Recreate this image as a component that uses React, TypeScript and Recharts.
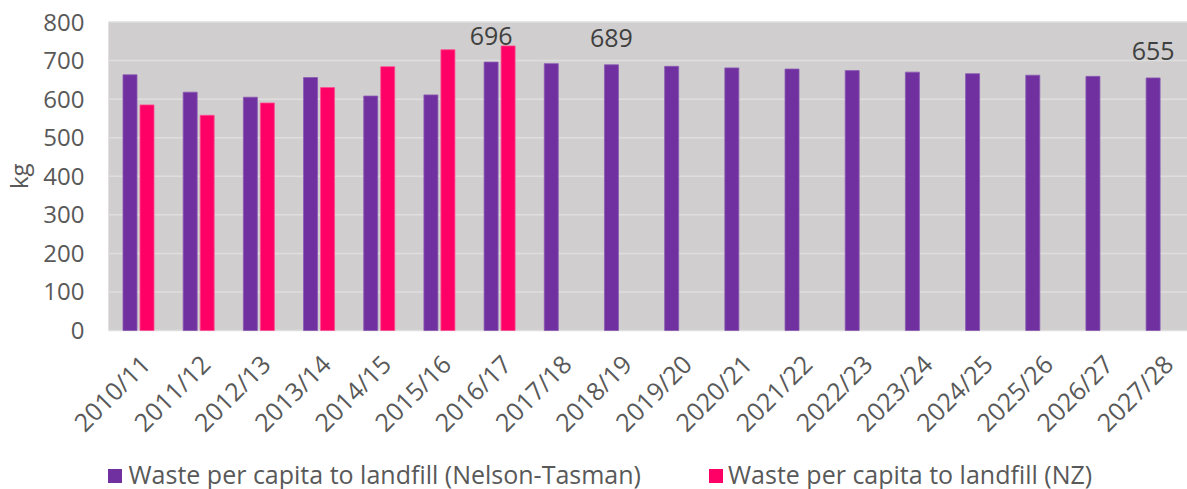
import React from 'react';
import { BarChart, Bar, XAxis, YAxis, CartesianGrid, Legend, LabelList, Label } from 'recharts';

// Financial years shown on the category axis
const years = [
  '2010/11', '2011/12', '2012/13', '2013/14', '2014/15', '2015/16', '2016/17', '2017/18', '2018/19',
  '2019/20', '2020/21', '2021/22', '2022/23', '2023/24', '2024/25', '2025/26', '2026/27', '2027/28',
];

// Waste per capita to landfill, kg – Nelson-Tasman (actuals then projection)
const nelsonTasman = [663, 618, 605, 656, 608, 611, 696, 692, 689, 685, 681, 678, 674, 670, 666, 662, 659, 655];

// Waste per capita to landfill, kg – New Zealand (actuals only)
const nz: (number | null)[] = [585, 558, 590, 630, 684, 728, 738, null, null, null, null, null, null, null, null, null, null, null];

// Years whose Nelson-Tasman value is printed above the bar
const labelledYears = ['2016/17', '2018/19', '2027/28'];

const yTicks = [0, 100, 200, 300, 400, 500, 600, 700, 800];

const seriesNames = {
  nt: 'Waste per capita to landfill (Nelson-Tasman)',
  nz: 'Waste per capita to landfill (NZ)',
};

const PURPLE = '#7030A0';
const PINK = '#FF0066';
const TEXT = '#595959';
const FONT = '"Open Sans", sans-serif';

const data = years.map((year, i) => ({
  year,
  nt: nelsonTasman[i],
  nz: nz[i],
  ntLabel: labelledYears.includes(year) ? nelsonTasman[i] : null,
}));

const XTick = (props: any) => {
  const { x, y, payload } = props;
  return (
    <g transform={`translate(${x + 1},${y + 23})`}>
      <text
        x={0}
        y={0}
        dy="0.71em"
        textAnchor="end"
        transform="rotate(-45)"
        fill={TEXT}
        fontSize={25}
        style={{ fontFamily: FONT }}
      >
        {payload.value}
      </text>
    </g>
  );
};

const KgLabel = (props: any) => {
  const vb = props.viewBox || { y: 22, height: 308 };
  const cy = vb.y + vb.height / 2;
  const bx = 28;
  return (
    <text
      x={bx}
      y={cy}
      transform={`rotate(-90, ${bx}, ${cy})`}
      textAnchor="middle"
      fill={TEXT}
      fontSize={24}
      style={{ fontFamily: FONT }}
    >
      kg
    </text>
  );
};

const LegendContent = () => (
  <div style={{ position: 'relative', width: 1187, height: 34, fontFamily: FONT, fontSize: 25, color: TEXT }}>
    <span style={{ position: 'absolute', left: 108, top: 14, width: 13.5, height: 13.5, background: PURPLE }} />
    <span style={{ position: 'absolute', left: 128.5, top: 6.5, lineHeight: '25px', whiteSpace: 'nowrap' }}>{seriesNames.nt}</span>
    <span style={{ position: 'absolute', left: 709, top: 14, width: 13.5, height: 13.5, background: PINK }} />
    <span style={{ position: 'absolute', left: 728, top: 6.5, lineHeight: '25px', whiteSpace: 'nowrap' }}>{seriesNames.nz}</span>
  </div>
);

export default function App() {
  return (
    <div style={{ position: 'absolute', left: 0, top: 0, width: 1187, height: 489, overflow: 'hidden', background: '#fff' }}>
      <BarChart
        width={1200}
        height={489}
        data={data}
        margin={{ top: 22, right: 8.3, bottom: 0, left: 0 }}
        barGap={3}
        barCategoryGap={14.6}
        style={{ fontFamily: FONT }}
      >
        <CartesianGrid vertical={false} fill="#D0CECE" fillOpacity={1} stroke="#DFDEDE" strokeWidth={1.5} />
        <XAxis
          dataKey="year"
          interval={0}
          tickLine={false}
          axisLine={false}
          tickSize={0}
          tickMargin={0}
          height={158.5}
          tick={<XTick />}
        />
        <YAxis
          domain={[0, 800]}
          ticks={yTicks}
          width={108.4}
          tickLine={false}
          axisLine={false}
          tickSize={0}
          tickMargin={24}
          tick={{ fontSize: 24, fill: TEXT, fontFamily: FONT }}
        >
          <Label content={<KgLabel />} />
        </YAxis>
        <Legend
          layout="horizontal"
          verticalAlign="middle"
          align="center"
          wrapperStyle={{ top: 455, left: 0, width: 1187 }}
          content={<LegendContent />}
        />
        <Bar dataKey="nt" name={seriesNames.nt} fill={PURPLE} stroke="#8A5BB5" strokeWidth={0.8} isAnimationActive={false}>
          <LabelList dataKey="ntLabel" position="top" offset={17.5} fill="#404040" fontSize={25} fontFamily={FONT} />
        </Bar>
        <Bar dataKey="nz" name={seriesNames.nz} fill={PINK} stroke="#FF4D8F" strokeWidth={0.8} isAnimationActive={false} />
      </BarChart>
    </div>
  );
}
